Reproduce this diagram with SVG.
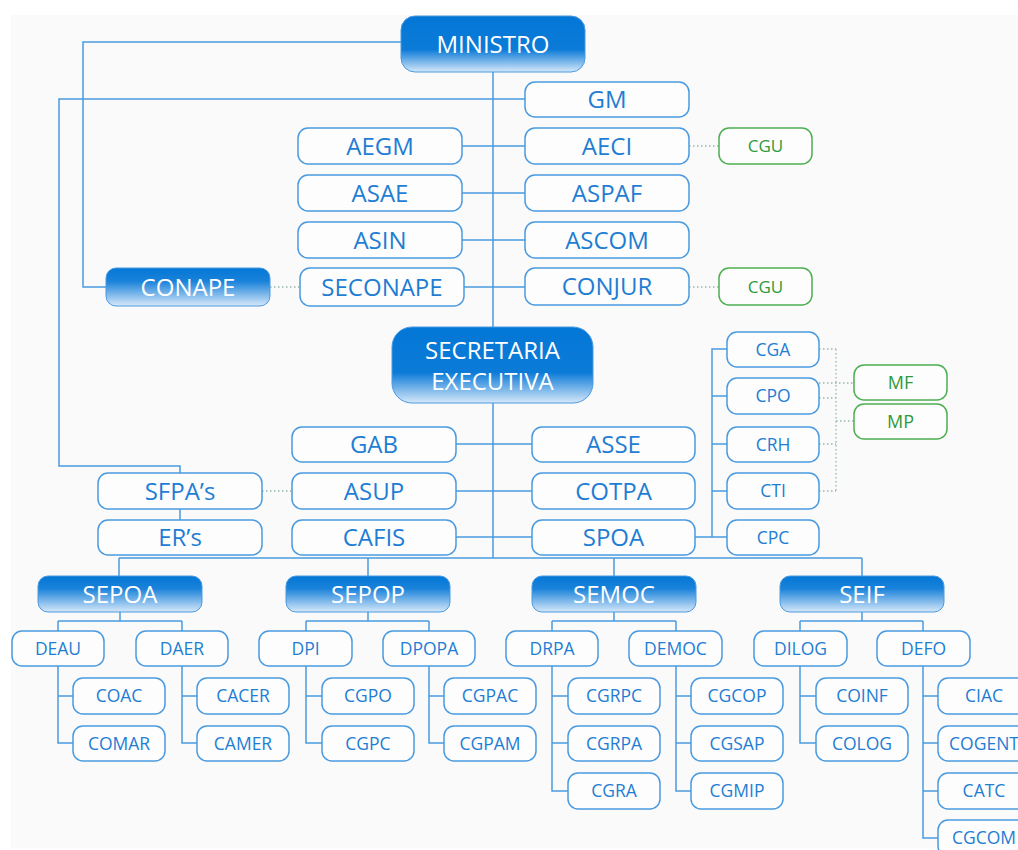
<svg xmlns="http://www.w3.org/2000/svg" width="1018" height="850" viewBox="0 0 1018 850">
<defs>
<linearGradient id="gb" x1="0" y1="0" x2="0" y2="1">
<stop offset="0" stop-color="#0377d6"/>
<stop offset="0.6" stop-color="#0c7bd8"/>
<stop offset="1" stop-color="#d6e8f9"/>
</linearGradient>
<linearGradient id="gs" x1="0" y1="0" x2="0" y2="1">
<stop offset="0" stop-color="#0377d6"/>
<stop offset="0.35" stop-color="#1a82da"/>
<stop offset="1" stop-color="#d6e8f9"/>
</linearGradient>
<style>
.b{fill:#fdfdfd;stroke:#4a9ae0;stroke-width:1.5}
.g{fill:#fdfdfd;stroke:#4caf50;stroke-width:1.5}
.h{fill:url(#gb);stroke:#4a9ae0;stroke-width:1}
.hs{fill:url(#gs);stroke:#4a9ae0;stroke-width:1}
.t{font-family:"Open Sans","Noto Sans",sans-serif;font-size:24px;fill:#1f7dd3;text-anchor:middle}
.s{font-family:"Open Sans","Noto Sans",sans-serif;font-size:17.5px;fill:#1f7dd3;text-anchor:middle}
.w{font-family:"Open Sans","Noto Sans",sans-serif;font-size:24px;fill:#ffffff;text-anchor:middle}
.gt{font-family:"Open Sans","Noto Sans",sans-serif;font-size:17px;fill:#2e9a3a;text-anchor:middle}
.gt2{font-family:"Open Sans","Noto Sans",sans-serif;font-size:18px;fill:#2e9a3a;text-anchor:middle}
.c{fill:none;stroke:#4a9ae0;stroke-width:1.5}
.d{fill:none;stroke:#98b8a8;stroke-width:1.3;stroke-dasharray:1.5 2.5}
</style>
</defs>
<rect x="0" y="0" width="1018" height="850" fill="#ffffff"/>
<rect x="11" y="15" width="1007" height="833" fill="#fafafa"/>

<g id="connectors">
<path class="c" d="M493 72V558"/>
<path class="c" d="M401 42H83V287H106"/>
<path class="c" d="M525 99H59V466H180V473"/>
<path class="c" d="M462 146H525M462 193H525M462 240H525M464 287H525"/>
<path class="c" d="M456 444H532M456 491H532M456 537H532"/>
<path class="c" d="M180 509V520"/>
<path class="c" d="M695 537H712V349H727M712 396H727M712 444H727M712 491H727M712 537H727"/>
<path class="c" d="M119 558H862M119 558V576M368 558V576M614 558V576M862 558V576"/>
<path class="c" d="M120 612V621M58 621H182M58 621V631M182 621V631"/>
<path class="c" d="M368 612V621M306 621H429M306 621V631M429 621V631"/>
<path class="c" d="M614 612V621M552 621H676M552 621V631M676 621V631"/>
<path class="c" d="M862 612V621M800 621H923M800 621V631M923 621V631"/>
<path class="c" d="M58 666V743H73M58 696H73"/>
<path class="c" d="M182 666V743H197M182 696H197"/>
<path class="c" d="M306 666V743H322M306 696H322"/>
<path class="c" d="M429 666V743H444M429 696H444"/>
<path class="c" d="M552 666V791H568M552 696H568M552 743H568"/>
<path class="c" d="M676 666V791H691M676 696H691M676 743H691"/>
<path class="c" d="M800 666V743H816M800 696H816"/>
<path class="c" d="M923 666V838H938M923 696H938M923 743H938M923 791H938"/>
<path class="d" d="M270 287H300M689 146H719M689 287H719M262 491H292"/>
<path class="d" d="M836 349V491M819 349H836M819 398H836M819 444H836M819 491H836M819 383H854M836 421H854"/>
</g>

<g id="n-ministro"><rect class="h" x="401" y="16" width="184" height="56" rx="14"/><text class="w" x="493" y="52.6">MINISTRO</text></g>
<g id="n-gm"><rect class="b" x="525" y="82" width="164" height="35" rx="10"/><text class="t" x="607" y="108">GM</text></g>
<g id="n-aeci"><rect class="b" x="525" y="128" width="164" height="36" rx="10"/><text class="t" x="607" y="154.6">AECI</text></g>
<g id="n-aspaf"><rect class="b" x="525" y="175" width="164" height="36" rx="10"/><text class="t" x="607" y="201.6">ASPAF</text></g>
<g id="n-ascom"><rect class="b" x="525" y="222" width="164" height="36" rx="10"/><text class="t" x="607" y="248.6">ASCOM</text></g>
<g id="n-conjur"><rect class="b" x="525" y="268" width="164" height="37" rx="10"/><text class="t" x="607" y="295">CONJUR</text></g>
<g id="n-aegm"><rect class="b" x="298" y="128" width="164" height="36" rx="10"/><text class="t" x="380" y="154.6">AEGM</text></g>
<g id="n-asae"><rect class="b" x="298" y="175" width="164" height="36" rx="10"/><text class="t" x="380" y="201.6">ASAE</text></g>
<g id="n-asin"><rect class="b" x="298" y="222" width="164" height="36" rx="10"/><text class="t" x="380" y="248.6">ASIN</text></g>
<g id="n-seconape"><rect class="b" x="300" y="268" width="164" height="38" rx="10"/><text class="t" x="382" y="295.6">SECONAPE</text></g>
<g id="n-conape"><rect class="hs" x="106" y="268" width="164" height="38" rx="10"/><text class="w" x="188" y="295.6">CONAPE</text></g>
<g id="n-cgu1"><rect class="g" x="719" y="128" width="93" height="36" rx="10"/><text class="gt" x="765.5" y="152.1">CGU</text></g>
<g id="n-cgu2"><rect class="g" x="719" y="268" width="93" height="37" rx="10"/><text class="gt" x="765.5" y="292.6">CGU</text></g>

<g id="n-se"><rect class="h" x="392" y="327" width="201" height="76" rx="20"/><text class="w" x="492.5" y="358.6">SECRETARIA</text><text class="w" x="492.5" y="389.6">EXECUTIVA</text></g>
<g id="n-gab"><rect class="b" x="292" y="427" width="164" height="35" rx="10"/><text class="t" x="374" y="453">GAB</text></g>
<g id="n-asse"><rect class="b" x="532" y="427" width="163" height="35" rx="10"/><text class="t" x="613.5" y="453">ASSE</text></g>
<g id="n-asup"><rect class="b" x="292" y="473" width="164" height="36" rx="10"/><text class="t" x="374" y="499.6">ASUP</text></g>
<g id="n-cotpa"><rect class="b" x="532" y="473" width="163" height="36" rx="10"/><text class="t" x="613.5" y="499.6">COTPA</text></g>
<g id="n-cafis"><rect class="b" x="292" y="520" width="164" height="35" rx="10"/><text class="t" x="374" y="546">CAFIS</text></g>
<g id="n-spoa"><rect class="b" x="532" y="520" width="163" height="35" rx="10"/><text class="t" x="613.5" y="546">SPOA</text></g>
<g id="n-sfpas"><rect class="b" x="98" y="473" width="164" height="36" rx="10"/><text class="t" x="180" y="499.6">SFPA’s</text></g>
<g id="n-ers"><rect class="b" x="98" y="520" width="164" height="35" rx="10"/><text class="t" x="180" y="546">ER’s</text></g>
<g id="n-cga"><rect class="b" x="727" y="332" width="92" height="35" rx="10"/><text class="s" x="773" y="355.8">CGA</text></g>
<g id="n-cpo"><rect class="b" x="727" y="378" width="92" height="36" rx="10"/><text class="s" x="773" y="402.3">CPO</text></g>
<g id="n-crh"><rect class="b" x="727" y="427" width="92" height="35" rx="10"/><text class="s" x="773" y="450.8">CRH</text></g>
<g id="n-cti"><rect class="b" x="727" y="473" width="92" height="36" rx="10"/><text class="s" x="773" y="497.3">CTI</text></g>
<g id="n-cpc"><rect class="b" x="727" y="520" width="92" height="35" rx="10"/><text class="s" x="773" y="543.8">CPC</text></g>
<g id="n-mf"><rect class="g" x="854" y="365" width="93" height="35" rx="10"/><text class="gt2" x="900.5" y="389">MF</text></g>
<g id="n-mp"><rect class="g" x="854" y="404" width="93" height="35" rx="10"/><text class="gt2" x="900.5" y="428">MP</text></g>

<g id="n-sepoa"><rect class="hs" x="38" y="576" width="164" height="36" rx="10"/><text class="w" x="120" y="602.6">SEPOA</text></g>
<g id="n-sepop"><rect class="hs" x="286" y="576" width="164" height="36" rx="10"/><text class="w" x="368" y="602.6">SEPOP</text></g>
<g id="n-semoc"><rect class="hs" x="532" y="576" width="164" height="36" rx="10"/><text class="w" x="614" y="602.6">SEMOC</text></g>
<g id="n-seif"><rect class="hs" x="780" y="576" width="164" height="36" rx="10"/><text class="w" x="862" y="602.6">SEIF</text></g>

<g id="n-deau"><rect class="b" x="12" y="631" width="92" height="35" rx="10"/><text class="s" x="58" y="654.8">DEAU</text></g>
<g id="n-daer"><rect class="b" x="136" y="631" width="92" height="35" rx="10"/><text class="s" x="182" y="654.8">DAER</text></g>
<g id="n-dpi"><rect class="b" x="259" y="631" width="93" height="35" rx="10"/><text class="s" x="305.5" y="654.8">DPI</text></g>
<g id="n-dpopa"><rect class="b" x="383" y="631" width="92" height="35" rx="10"/><text class="s" x="429" y="654.8">DPOPA</text></g>
<g id="n-drpa"><rect class="b" x="506" y="631" width="92" height="35" rx="10"/><text class="s" x="552" y="654.8">DRPA</text></g>
<g id="n-democ"><rect class="b" x="629" y="631" width="93" height="35" rx="10"/><text class="s" x="675.5" y="654.8">DEMOC</text></g>
<g id="n-dilog"><rect class="b" x="754" y="631" width="93" height="35" rx="10"/><text class="s" x="800.5" y="654.8">DILOG</text></g>
<g id="n-defo"><rect class="b" x="877" y="631" width="93" height="35" rx="10"/><text class="s" x="923.5" y="654.8">DEFO</text></g>

<g id="n-coac"><rect class="b" x="73" y="678" width="92" height="36" rx="10"/><text class="s" x="119" y="702.3">COAC</text></g>
<g id="n-comar"><rect class="b" x="73" y="726" width="92" height="35" rx="10"/><text class="s" x="119" y="749.8">COMAR</text></g>
<g id="n-cacer"><rect class="b" x="197" y="678" width="92" height="36" rx="10"/><text class="s" x="243" y="702.3">CACER</text></g>
<g id="n-camer"><rect class="b" x="197" y="726" width="92" height="35" rx="10"/><text class="s" x="243" y="749.8">CAMER</text></g>
<g id="n-cgpo"><rect class="b" x="322" y="678" width="92" height="36" rx="10"/><text class="s" x="368" y="702.3">CGPO</text></g>
<g id="n-cgpc"><rect class="b" x="322" y="726" width="92" height="35" rx="10"/><text class="s" x="368" y="749.8">CGPC</text></g>
<g id="n-cgpac"><rect class="b" x="444" y="678" width="92" height="36" rx="10"/><text class="s" x="490" y="702.3">CGPAC</text></g>
<g id="n-cgpam"><rect class="b" x="444" y="726" width="92" height="35" rx="10"/><text class="s" x="490" y="749.8">CGPAM</text></g>
<g id="n-cgrpc"><rect class="b" x="568" y="678" width="92" height="36" rx="10"/><text class="s" x="614" y="702.3">CGRPC</text></g>
<g id="n-cgrpa"><rect class="b" x="568" y="726" width="92" height="35" rx="10"/><text class="s" x="614" y="749.8">CGRPA</text></g>
<g id="n-cgra"><rect class="b" x="568" y="773" width="92" height="36" rx="10"/><text class="s" x="614" y="797.3">CGRA</text></g>
<g id="n-cgcop"><rect class="b" x="691" y="678" width="92" height="36" rx="10"/><text class="s" x="737" y="702.3">CGCOP</text></g>
<g id="n-cgsap"><rect class="b" x="691" y="726" width="92" height="35" rx="10"/><text class="s" x="737" y="749.8">CGSAP</text></g>
<g id="n-cgmip"><rect class="b" x="691" y="773" width="92" height="36" rx="10"/><text class="s" x="737" y="797.3">CGMIP</text></g>
<g id="n-coinf"><rect class="b" x="816" y="678" width="92" height="36" rx="10"/><text class="s" x="862" y="702.3">COINF</text></g>
<g id="n-colog"><rect class="b" x="816" y="726" width="92" height="35" rx="10"/><text class="s" x="862" y="749.8">COLOG</text></g>
<g id="n-ciac"><rect class="b" x="938" y="678" width="92" height="36" rx="10"/><text class="s" x="984" y="702.3">CIAC</text></g>
<g id="n-cogent"><rect class="b" x="938" y="726" width="92" height="35" rx="10"/><text class="s" x="984" y="749.8">COGENT</text></g>
<g id="n-catc"><rect class="b" x="938" y="773" width="92" height="36" rx="10"/><text class="s" x="984" y="797.3">CATC</text></g>
<g id="n-cgcom"><rect class="b" x="938" y="820" width="92" height="36" rx="10"/><text class="s" x="984" y="844.3">CGCOM</text></g>
</svg>
